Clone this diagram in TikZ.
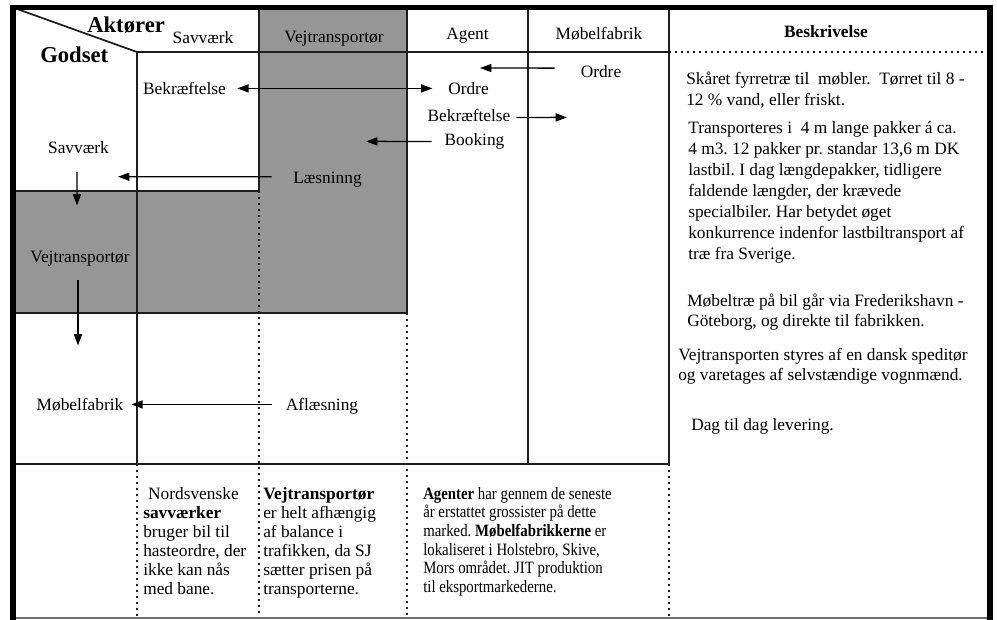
\documentclass[tikz,border=0pt]{standalone}
\usepackage{fontspec}
\setmainfont{Liberation Serif}
\usepackage{graphicx}
\usetikzlibrary{arrows.meta}
\definecolor{cellgray}{RGB}{150,150,150}
\definecolor{rulecol}{RGB}{30,30,30}
\definecolor{basecol}{RGB}{110,110,110}
\frenchspacing
\begin{document}
\begin{tikzpicture}[x=0.75pt,y=-0.75pt,
  lbl/.style={inner sep=0pt, anchor=base, font=\fontsize{13}{15}\selectfont, text height=9pt, text depth=2.6pt},
  hd/.style={inner sep=0pt, anchor=base west, font=\fontsize{17}{20}\selectfont\bfseries},
  para/.style={inner sep=0pt, anchor=base west},
  rulel/.style={draw=rulecol, line width=1.3pt},
  dotl/.style={draw=rulecol, line width=1.5pt, dash pattern=on 1.5pt off 3pt},
  arr/.style={draw=black, line width=1pt, -{Triangle[length=8.5pt,width=6pt]}},
  dblarr/.style={draw=black, line width=1pt, {Triangle[length=8.5pt,width=6pt]}-{Triangle[length=8.5pt,width=6pt]}},
]
\useasboundingbox (0,0) rectangle (997,619);
\fill[white] (0,0) rectangle (997,619);

% shaded road-haulier band (column and row)
\fill[cellgray] (259,10) -- (407,10) -- (407,313) -- (13,313) -- (13,191) -- (259,191) -- cycle;

% solid grid rules
\draw[rulel] (137,52) -- (669,52);
\draw[rulel] (13,7.5) -- (137,52);
\draw[rulel] (137,52) -- (137,464);
\draw[rulel] (259,10) -- (259,191);
\draw[rulel] (13,191) -- (259,191);
\draw[rulel] (407,10) -- (407,313);
\draw[rulel] (13,313) -- (407,313);
\draw[rulel] (528,10) -- (528,464);
\draw[rulel] (669,10) -- (669,464);
\draw[rulel] (13,464) -- (669,464);

% dotted rules
\draw[dotl] (669,52) -- (990,52);
\draw[dotl] (259,191) -- (259,619);
\draw[dotl] (407,313) -- (407,619);
\draw[dotl] (137,464) -- (137,619);
\draw[dotl] (669,464) -- (669,619);

% outer frame
\draw[basecol, line width=1pt] (13,618) -- (990,618);
\draw[black, line width=4.3pt, line join=miter] (13,630) -- (13,7.5) -- (990,7.5) -- (990,630);

% corner headings
\node[hd] (akt) at (87,32.7) {Aktører};
\node[hd] (god) at (40,62) {Godset};

% column headings
\node[lbl] (hsav) at (203,43) {Savværk};
\node[lbl] (hvej) at (334,42.7) {Vejtransportør};
\node[lbl] (hag)  at (467.5,39.3) {Agent};
\node[lbl] (hmob) at (599,39.3) {Møbelfabrik};
\node[lbl, font=\fontsize{13}{15}\selectfont\bfseries] (hbes) at (826,37) {Beskrivelse};

% row headings
\node[lbl] (sav) at (78.5,153.3) {Savværk};
\node[lbl] (vej) at (80,262.7) {Vejtransportør};
\node[lbl] (mob) at (80,410.7) {Møbelfabrik};

% flow labels
\node[lbl] (bek1) at (184.5,94) {Bekræftelse};
\node[lbl] (ord1) at (468.5,94) {Ordre};
\node[lbl] (ord2) at (601,77.7) {Ordre};
\node[lbl] (bek2) at (469,121.7) {Bekræftelse};
\node[lbl] (book) at (474.5,145.7) {Booking};
\node[lbl] (laes) at (327.5,183.3) {Læsninng};
\node[lbl] (afl)  at (322,410.7) {Aflæsning};

% free arrow ends
\coordinate (c1) at (480,68);
\coordinate (c2) at (567,117.4);
\coordinate (c3) at (366,141.4);
\coordinate (c4) at (118,176.7);
\coordinate (c5) at (77,205.5);
\coordinate (c6) at (78,345.5);

% arrows
\draw[dblarr] ([xshift=8.3pt,yshift=1pt]bek1.east) -- ([xshift=-11.7pt,yshift=1pt]ord1.west);
\draw[arr] ([xshift=-19.4pt,yshift=4pt]ord2.west) -- (c1);
\draw[arr] ([xshift=4.2pt]bek2.east) -- (c2);
\draw[arr] ([xshift=-9.5pt]book.west) -- (c3);
\draw[arr] ([xshift=-16pt,yshift=1.7pt]laes.west) -- (c4);
\draw[arr] ([xshift=-10.4pt,yshift=1.5pt]afl.west) -- ([xshift=5.8pt,yshift=1.5pt]mob.east);
\draw[arr] ([xshift=-1.1pt,yshift=-11.4pt]sav.south) -- (c5);
\draw[arr] ([xshift=-1.5pt,yshift=-10.4pt]vej.south) -- (c6);

% description column
\node[para] (d1) at (686,84) {\parbox[t]{300pt}{\fontsize{13}{15.8}\selectfont
  Skåret fyrretræ til\ \ møbler.\ \ Tørret til 8 -\\12 \% vand, eller friskt.}};
\node[para] (d2) at (688,133) {\parbox[t]{300pt}{\fontsize{13}{15.8}\selectfont
  Transporteres i\ \ 4 m lange pakker á ca.\\4 m3. 12 pakker pr. standar 13,6 m DK\\lastbil. I dag længdepakker, tidligere\\faldende længder, der krævede\\specialbiler. Har betydet øget\\konkurrence indenfor lastbiltransport af\\træ fra Sverige.}};
\node[para] (d3) at (687,306.7) {\parbox[t]{300pt}{\fontsize{13}{15}\selectfont
  Møbeltræ på bil går via Frederikshavn -\\Göteborg, og direkte til fabrikken.}};
\node[para] (d4) at (678,360) {\parbox[t]{300pt}{\fontsize{13}{15}\selectfont
  Vejtransporten styres af en dansk speditør\\og varetages af selvstændige vognmænd.}};
\node[para] (d5) at (691,430.7) {\parbox[t]{300pt}{\fontsize{13}{15}\selectfont
  Dag til dag levering.}};

% notes under the flow grid
\node[para] (nb1) at (143,499.3) {\parbox[t]{130pt}{\fontsize{13}{14.3}\selectfont
  \hspace*{3.7pt}Nordsvenske\\\textbf{savværker}\\bruger bil til\\hasteordre, der\\ikke kan nås\\med bane.}};
\node[para] (nb2) at (263,499.3) {\parbox[t]{130pt}{\fontsize{13}{14.3}\selectfont
  \textbf{Vejtransportør}\\er helt afhængig\\af balance i\\trafikken, da SJ\\sætter prisen på\\transporterne.}};
\node[para] (nb3) at (423,499.3) {\scalebox{0.855}[1]{\parbox[t]{300pt}{\fontsize{13}{14}\selectfont
  \textbf{Agenter} har gennem de seneste\\år erstattet grossister på dette\\marked. \textbf{Møbelfabrikkerne} er\\lokaliseret i Holstebro, Skive,\\Mors området. JIT produktion\\til eksportmarkederne.}}};
\end{tikzpicture}
\end{document}
